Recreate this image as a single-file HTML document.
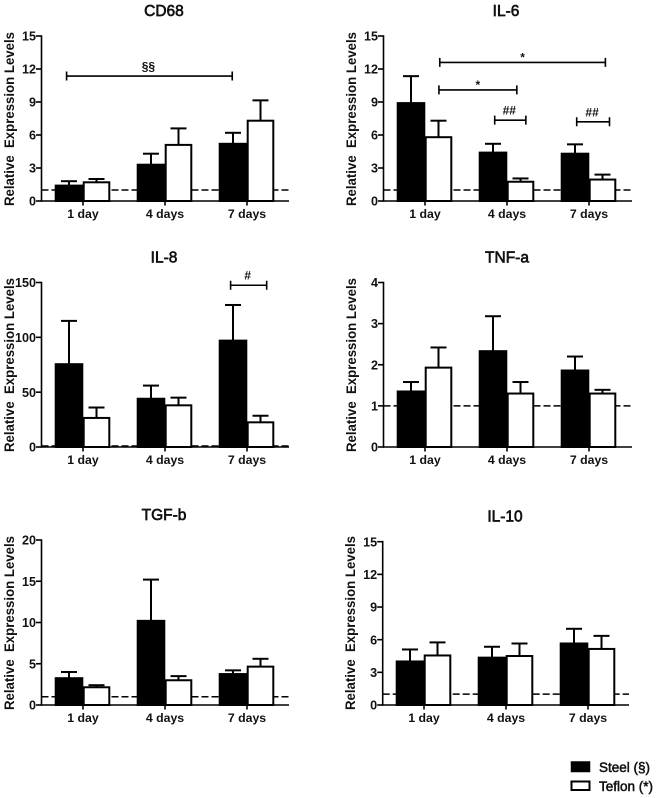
<!DOCTYPE html>
<html lang="en">
<head>
<meta charset="utf-8">
<title>Relative expression levels</title>
<style>
html,body{margin:0;padding:0;background:#fff;width:660px;height:798px;overflow:hidden}
svg{display:block;font-family:"Liberation Sans",sans-serif;filter:blur(0.35px)}
text{fill:#111}
</style>
</head>
<body>
<svg id="figure" xmlns="http://www.w3.org/2000/svg" width="660" height="798" viewBox="0 0 660 798">
  <g>
    <rect x="571.5" y="762" width="18" height="9.5" fill="#000" stroke="#000" stroke-width="1.5"/>
    <text x="599" y="772" font-size="13.5" stroke="#111" stroke-width="0.5">Steel (§)</text>
    <rect x="571.5" y="781.5" width="18" height="8.5" fill="#fff" stroke="#000" stroke-width="2"/>
    <text x="599" y="791" font-size="13.5" stroke="#111" stroke-width="0.5">Teflon (*)</text>
  </g>
</svg>
<script>
const categories = ['1 day', '4 days', '7 days'];
const referenceLevel = 1;
const yTitle = 'Relative\u00a0\u00a0Expression Levels';

const cd68Ticks = [0, 3, 6, 9, 12, 15];
const cd68Steel = [1.4, 3.3, 5.2];
const cd68SteelUpper = [1.8, 4.3, 6.2];
const cd68Teflon = [1.7, 5.1, 7.3];
const cd68TeflonUpper = [2.0, 6.6, 9.15];
const cd68Brackets = [{from: -0.2, to: 1.82, value: 11.36, label: '§§'}];

const il6Ticks = [0, 3, 6, 9, 12, 15];
const il6Steel = [8.9, 4.4, 4.3];
const il6SteelUpper = [11.35, 5.2, 5.15];
const il6Teflon = [5.8, 1.75, 1.95];
const il6TeflonUpper = [7.3, 2.05, 2.4];
const il6Brackets = [
  {from: 0.18, to: 2.2, value: 12.6, label: '*'},
  {from: 0.17, to: 1.12, value: 10.1, label: '*'},
  {from: 0.85, to: 1.23, value: 7.35, label: '##'},
  {from: 1.85, to: 2.25, value: 7.2, label: '##'}
];

const il8Ticks = [0, 50, 100, 150];
const il8Steel = [75.5, 44, 97];
const il8SteelUpper = [115, 56, 129.5];
const il8Teflon = [26.5, 38, 22.5];
const il8TeflonUpper = [36, 45, 28.5];
const il8Brackets = [{from: 1.8, to: 2.24, value: 147.5, label: '#'}];

const tnfTicks = [0, 1, 2, 3, 4];
const tnfSteel = [1.35, 2.33, 1.86];
const tnfSteelUpper = [1.58, 3.18, 2.2];
const tnfTeflon = [1.93, 1.3, 1.3];
const tnfTeflonUpper = [2.42, 1.58, 1.39];
const tnfBrackets = [];

const tgfTicks = [0, 5, 10, 15, 20];
const tgfSteel = [3.25, 10.2, 3.75];
const tgfSteelUpper = [4.0, 15.2, 4.2];
const tgfTeflon = [2.15, 3.0, 4.65];
const tgfTeflonUpper = [2.4, 3.5, 5.6];
const tgfBrackets = [];

const il10Ticks = [0, 3, 6, 9, 12, 15];
const il10Steel = [4.0, 4.35, 5.65];
const il10SteelUpper = [5.1, 5.35, 7.0];
const il10Teflon = [4.55, 4.5, 5.15];
const il10TeflonUpper = [5.75, 5.65, 6.35];
const il10Brackets = [];

const NS = 'http://www.w3.org/2000/svg';
const figure = document.getElementById('figure');

function make(parent, tag, props, content) {
  const node = document.createElementNS(NS, tag);
  for (const key in props) node.setAttribute(key, props[key]);
  if (content !== undefined) node.textContent = content;
  parent.appendChild(node);
  return node;
}

function drawPanel(p) {
  const slug = p.title.toLowerCase().replace(/[^a-z0-9]+/g, '-');
  const group = make(figure, 'g', {});
  
  

  const maxTick = p.ticks[p.ticks.length - 1];
  const yOf = v => p.bottom - (v / maxTick) * (p.bottom - p.top);
  const xOf = i => p.center0 + i * p.spacing;

  const title = make(group, 'text', {x: p.titleX, y: p.titleY, 'text-anchor': 'middle', 'font-size': 15.5, stroke: '#111', 'stroke-width': 0.65}, p.title);
  
  

  const axisTitleX = p.axisX - 32.5;
  const axisTitleY = p.bottom - 82;
  const axisTitle = make(group, 'text', {
    transform: 'translate(' + (axisTitleX + 5) + ' ' + axisTitleY + ') rotate(-90)',
    'text-anchor': 'middle', 'font-size': 13.5, 'font-weight': 'bold',
    textLength: 174, lengthAdjust: 'spacingAndGlyphs'
  }, yTitle);
  
  

  const refLine = make(group, 'line', {x1: p.axisX, x2: p.endX, y1: yOf(referenceLevel), y2: yOf(referenceLevel), stroke: '#000', 'stroke-width': 1.4, 'stroke-dasharray': '7 3'});
  
  

  categories.forEach((cat, i) => {
    const c = xOf(i);
    const series = [
      {key: 'steel', left: c - 28, right: c, mid: c - 14, val: p.steel[i], up: p.steelUpper[i], fill: '#000'},
      {key: 'teflon', left: c, right: c + 27, mid: c + 13.5, val: p.teflon[i], up: p.teflonUpper[i], fill: '#fff'}
    ];
    series.forEach(s => {
      const stem = make(group, 'line', {x1: s.mid, x2: s.mid, y1: yOf(s.val), y2: yOf(s.up), stroke: '#000', 'stroke-width': 2});
      
      
      const cap = make(group, 'line', {x1: s.mid - 8, x2: s.mid + 8, y1: yOf(s.up), y2: yOf(s.up), stroke: '#000', 'stroke-width': 2});
      
      
      const bar = make(group, 'rect', {x: s.left + 0.7, y: yOf(s.val), width: s.right - s.left - 1.4, height: p.bottom - yOf(s.val), fill: s.fill, stroke: '#000', 'stroke-width': 2});
      
      
    });
    const tick = make(group, 'line', {x1: c, x2: c, y1: p.bottom, y2: p.bottom + 4.5, stroke: '#000', 'stroke-width': 1.6});
    
    
    const label = make(group, 'text', {x: c, y: p.bottom + 17, 'text-anchor': 'middle', 'font-size': 12.3, 'font-weight': 'bold'}, cat);
    
    
  });

  const yAxis = make(group, 'line', {x1: p.axisX, x2: p.axisX, y1: p.top - 0.8, y2: p.bottom + 0.8, stroke: '#000', 'stroke-width': 1.6});
  
  
  const xAxis = make(group, 'line', {x1: p.axisX, x2: p.endX, y1: p.bottom, y2: p.bottom, stroke: '#000', 'stroke-width': 1.6});
  
  

  p.ticks.forEach(t => {
    const tick = make(group, 'line', {x1: p.axisX - 5.5, x2: p.axisX, y1: yOf(t), y2: yOf(t), stroke: '#000', 'stroke-width': 1.6});
    
    
    const label = make(group, 'text', {x: p.axisX - 5.5, y: yOf(t) + 4.6, 'text-anchor': 'end', 'font-size': 12.6, 'font-weight': 'bold'}, String(t));
    
    
  });

  p.brackets.forEach(b => {
    const x1 = xOf(b.from);
    const x2 = xOf(b.to);
    const y = yOf(b.value);
    const path = make(group, 'path', {d: 'M' + x1 + ' ' + (y - 4.5) + 'V' + (y + 4.5) + 'M' + x1 + ' ' + y + 'H' + x2 + 'M' + x2 + ' ' + (y - 4.5) + 'V' + (y + 4.5), fill: 'none', stroke: '#000', 'stroke-width': 1.6});
    
    
    const mark = make(group, 'text', {x: (x1 + x2) / 2 - (b.label === '*' ? 0 : 1), y: y - (b.label === '*' ? 1 : 5.5), 'text-anchor': 'middle', 'font-size': 12, 'font-weight': 'bold'}, b.label);
    
    
  });
}

drawPanel({title: 'CD68', ticks: cd68Ticks, steel: cd68Steel, steelUpper: cd68SteelUpper, teflon: cd68Teflon, teflonUpper: cd68TeflonUpper, brackets: cd68Brackets,
  axisX: 41.5, endX: 289, top: 36, bottom: 201, center0: 83, spacing: 82, titleX: 164, titleY: 16});
drawPanel({title: 'IL-6', ticks: il6Ticks, steel: il6Steel, steelUpper: il6SteelUpper, teflon: il6Teflon, teflonUpper: il6TeflonUpper, brackets: il6Brackets,
  axisX: 383.5, endX: 632, top: 36, bottom: 201, center0: 425, spacing: 82, titleX: 506, titleY: 16});
drawPanel({title: 'IL-8', ticks: il8Ticks, steel: il8Steel, steelUpper: il8SteelUpper, teflon: il8Teflon, teflonUpper: il8TeflonUpper, brackets: il8Brackets,
  axisX: 41.5, endX: 289, top: 282.5, bottom: 447, center0: 83, spacing: 82, titleX: 164, titleY: 262.5});
drawPanel({title: 'TNF-a', ticks: tnfTicks, steel: tnfSteel, steelUpper: tnfSteelUpper, teflon: tnfTeflon, teflonUpper: tnfTeflonUpper, brackets: tnfBrackets,
  axisX: 383.5, endX: 632, top: 282.5, bottom: 447, center0: 425, spacing: 82, titleX: 507, titleY: 262.5});
drawPanel({title: 'TGF-b', ticks: tgfTicks, steel: tgfSteel, steelUpper: tgfSteelUpper, teflon: tgfTeflon, teflonUpper: tgfTeflonUpper, brackets: tgfBrackets,
  axisX: 41.5, endX: 289, top: 540, bottom: 705, center0: 83, spacing: 82, titleX: 164, titleY: 520});
drawPanel({title: 'IL-10', ticks: il10Ticks, steel: il10Steel, steelUpper: il10SteelUpper, teflon: il10Teflon, teflonUpper: il10TeflonUpper, brackets: il10Brackets,
  axisX: 382.7, endX: 629, top: 541.7, bottom: 705, center0: 424, spacing: 82, titleX: 505, titleY: 521.5});
</script>
</body>
</html>
